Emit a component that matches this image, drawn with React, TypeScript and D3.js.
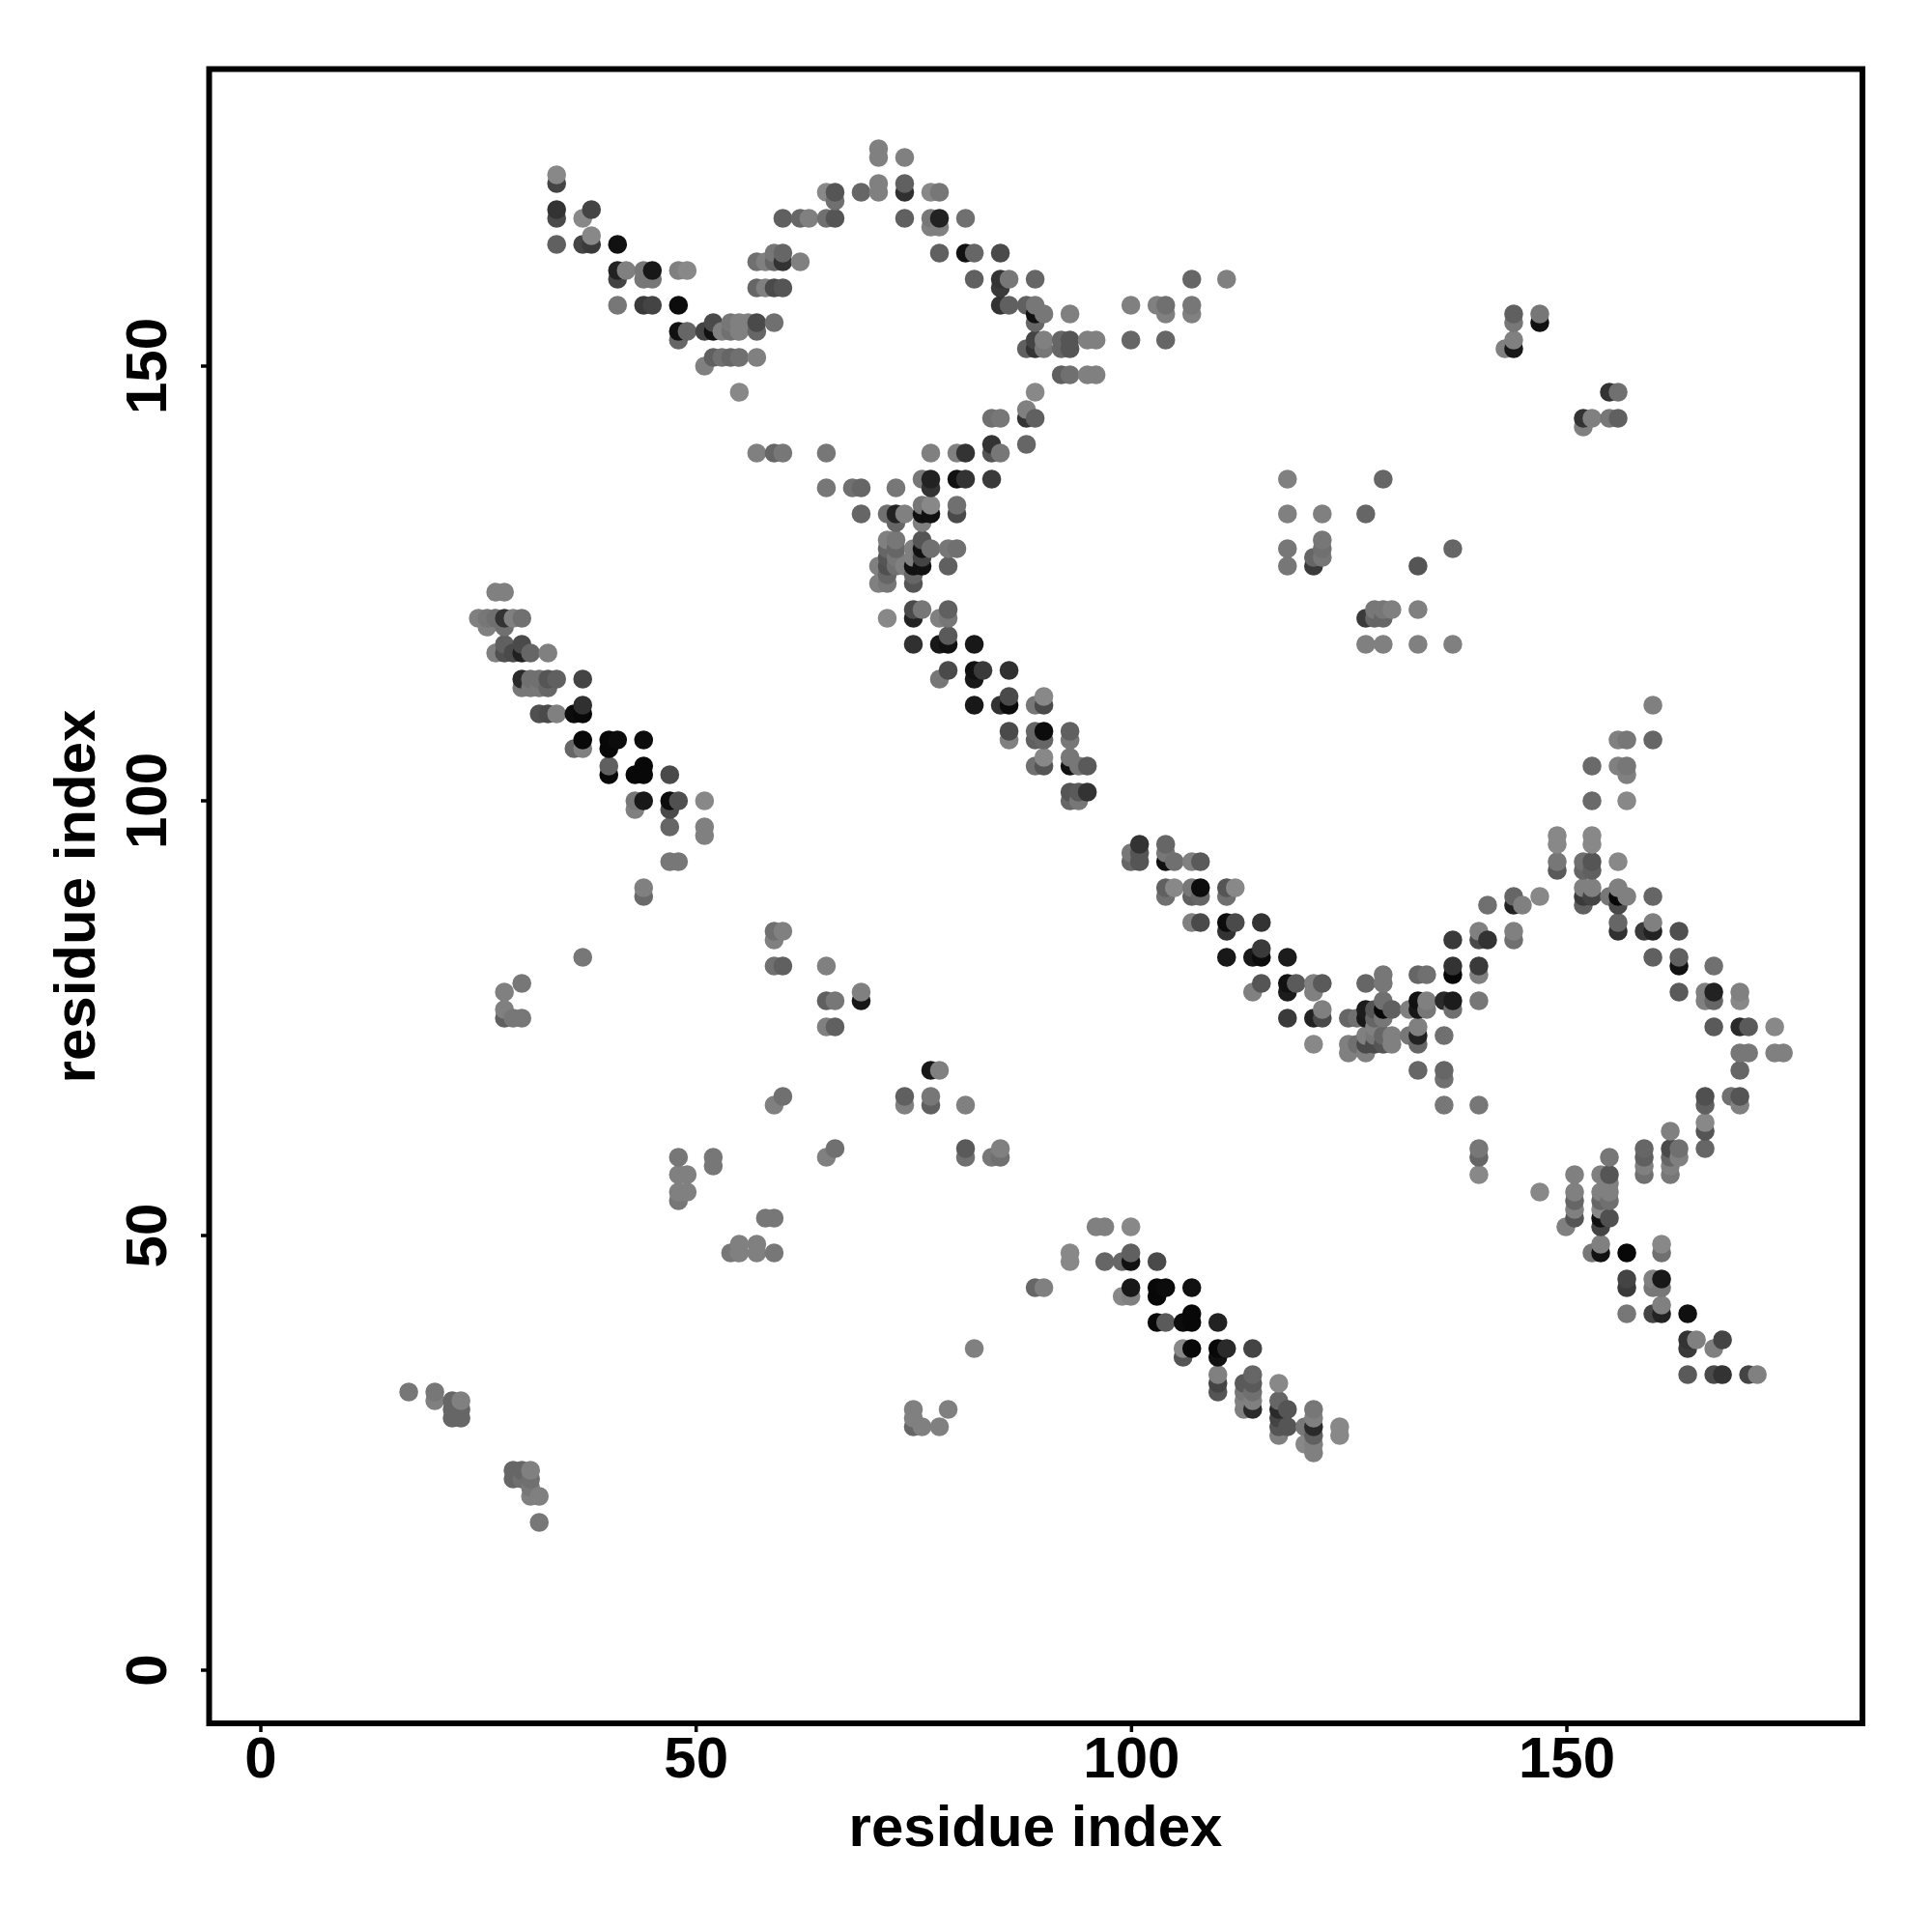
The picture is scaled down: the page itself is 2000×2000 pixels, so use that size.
import React from "react";
import * as d3 from "d3";

type P = [number, number, number];

const xTicks = [0, 50, 100, 150];
const yTicks = [0, 50, 100, 150];
const axisTitle = "residue index";

// [x residue, y residue, gray level]
const armTopLeft: P[] = [
  [34,171,0x44],[34,172,0x88],[34,168,0x33],[34,167,0x4a],[37,167,0x88],[38,168,0x44],
  [34,164,0x60],[37,164,0x44],[38,164,0x3a],[38,165,0x88],[41,164,0x11],
  [41,161,0x22],[41,160,0x44],[42,161,0x80],[44,161,0x77],[44,160,0x77],[45,160,0x77],[45,161,0x18],
  [48,161,0x80],[49,161,0x88],[41,157,0x77],[44,157,0x3a],[45,157,0x44],[48,157,0x0c],
  [48,154,0x11],[48,153,0x66],[49,154,0x66],[51,154,0x44],[52,155,0x4a],[52,154,0x11],[53,154,0x80],
  [54,155,0x77],[54,154,0x70],[55,155,0x80],[55,154,0x80],[56,155,0x80],[57,155,0x4a],[57,154,0x66],[59,155,0x70],
  [52,151,0x60],[53,151,0x70],[54,151,0x66],[55,151,0x70],[57,151,0x80],[51,150,0x80],[55,147,0x88],
  [57,140,0x80],[59,140,0x66],[60,140,0x77],[65,140,0x77],
];
const arcTop: P[] = [
  [57,162,0x70],[58,162,0x80],[59,162,0x66],[60,162,0x33],[62,162,0x80],[59,163,0x77],[60,163,0x66],
  [57,159,0x66],[58,159,0x80],[59,159,0x4a],[60,159,0x55],
  [60,167,0x60],[62,167,0x66],[63,167,0x80],[65,167,0x70],[66,167,0x55],
  [65,170,0x88],[66,170,0x55],[66,169,0x70],[69,170,0x66],[71,170,0x80],[71,171,0x80],[71,175,0x80],[71,174,0x80],
  [74,174,0x80],[74,171,0x60],[74,170,0x30],[77,170,0x88],[78,170,0x77],
  [74,167,0x60],[77,167,0x77],[78,167,0x22],[81,167,0x70],[77,166,0x80],[78,166,0x80],
  [78,163,0x60],[81,163,0x11],[82,163,0x66],[85,163,0x4a],
  [82,160,0x60],[85,160,0x33],[86,160,0x77],[89,160,0x66],[85,159,0x3a],
  [85,157,0x33],[86,157,0x60],[88,157,0x60],[89,157,0x77],[90,156,0x77],[89,156,0x11],[89,155,0x66],[93,156,0x80],
  [100,157,0x80],[103,157,0x80],[104,157,0x70],[104,156,0x80],[107,157,0x77],[107,156,0x80],[107,160,0x66],[111,160,0x80],
  [100,153,0x66],[104,153,0x66],
  [88,152,0x60],[89,153,0x44],[89,152,0x33],[90,153,0x80],[90,152,0x77],[92,153,0x66],[92,152,0x66],[93,153,0x55],[93,152,0x55],
  [95,153,0x80],[96,153,0x80],[92,149,0x60],[93,149,0x70],[95,149,0x80],[96,149,0x80],[89,147,0x88],
  [84,144,0x70],[85,144,0x77],[88,145,0x80],[88,144,0x33],[89,144,0x60],[84,141,0x33],[88,141,0x66],
  [84,140,0x55],[85,140,0x77],[77,140,0x80],[80,140,0x80],[81,140,0x33],
];
const diagonalUpper: P[] = [
  [76,137,0x77],[77,137,0x22],[80,137,0x11],[81,137,0x33],[84,137,0x3a],[77,136,0x33],
  [65,136,0x77],[68,136,0x70],[69,136,0x66],[73,136,0x77],
  [76,134,0x77],[77,134,0x88],[80,134,0x70],[69,133,0x66],[72,133,0x70],[73,133,0x22],[74,133,0x80],
  [76,133,0x11],[77,133,0x11],[80,133,0x4a],[73,132,0x66],[76,132,0x80],
  [72,130,0x80],[73,130,0x77],[76,130,0x55],[72,129,0x66],[73,129,0x66],[75,129,0x80],[76,129,0x11],[77,129,0x70],[79,129,0x77],[80,129,0x70],
  [72,128,0x55],[73,128,0x77],[75,128,0x80],[76,128,0x44],
  [71,127,0x80],[72,127,0x50],[73,127,0x70],[74,127,0x80],[75,127,0x11],[76,127,0x11],[79,127,0x60],
  [72,126,0x66],[75,126,0x66],[71,125,0x80],[72,125,0x77],[75,125,0x55],
  [75,122,0x4a],[76,122,0x77],[79,122,0x60],[72,121,0x88],[75,121,0x22],[78,121,0x80],[79,121,0x77],
  [75,118,0x30],[78,118,0x18],[79,118,0x11],[82,118,0x18],[79,119,0x5a],
  [79,115,0x4a],[82,115,0x11],[83,115,0x3a],[86,115,0x30],[78,114,0x77],[82,114,0x18],
  [82,111,0x18],[85,111,0x33],[86,111,0x0c],[89,111,0x77],[90,111,0x4a],[86,112,0x4a],[90,112,0x88],
  [86,108,0x4a],[89,108,0x66],[90,108,0x0c],[93,108,0x60],[86,107,0x80],[89,107,0x60],[90,107,0x66],[93,107,0x77],
  [90,105,0x88],[93,105,0x77],[89,104,0x70],[90,104,0x55],[93,104,0x11],[94,104,0x77],[95,104,0x5a],
  [93,101,0x55],[94,101,0x5a],[95,101,0x33],[93,100,0x66],[94,100,0x77],
];
const diagonalMiddle: P[] = [
  [101,95,0x33],[104,95,0x66],[100,94,0x77],[101,94,0x55],[104,94,0x77],
  [100,93,0x66],[101,93,0x55],[104,93,0x11],[105,93,0x70],[107,93,0x80],[108,93,0x5a],
  [104,90,0x60],[105,90,0x88],[107,90,0x77],[108,90,0x0c],[111,90,0x55],[112,90,0x88],
  [104,89,0x70],[107,89,0x60],[108,89,0x66],[111,89,0x70],
  [107,86,0x80],[108,86,0x4a],[111,86,0x0c],[112,86,0x4a],[115,86,0x33],[111,85,0x33],
  [115,83,0x3a],[111,82,0x18],[114,82,0x18],[115,82,0x0c],[118,82,0x1c],
  [115,79,0x55],[118,79,0x11],[119,79,0x5a],[121,79,0x80],[122,79,0x5a],[114,78,0x80],[118,78,0x1c],[121,78,0x80],
  [118,75,0x3a],[121,75,0x22],[122,75,0x4a],[122,76,0x80],[121,72,0x88],
];
const knotRight: P[] = [
  [127,79,0x66],[129,80,0x77],[129,79,0x77],[125,75,0x66],[126,75,0x70],[127,75,0x18],[128,75,0x66],[129,75,0x77],
  [127,76,0x1c],[128,76,0x55],[129,76,0x08],[130,76,0x60],[129,77,0x70],[128,74,0x80],
  [127,73,0x80],[128,73,0x77],[129,73,0x66],[130,73,0x80],
  [125,72,0x80],[126,72,0x70],[127,72,0x4a],[128,72,0x4a],[129,72,0x55],[130,72,0x80],[125,71,0x80],[127,71,0x80],
  [133,80,0x66],[134,80,0x70],[136,77,0x2a],[137,77,0x1c],[137,76,0x70],[133,77,0x11],[133,76,0x18],[134,77,0x80],[134,76,0x77],[132,76,0x80],
  [133,74,0x80],[133,73,0x22],[132,73,0x77],[133,72,0x66],[136,73,0x70],
  [133,69,0x66],[136,69,0x66],[136,68,0x70],[136,65,0x77],[140,65,0x77],
  [137,84,0x3a],[137,81,0x33],[137,80,0x08],[140,81,0x3a],[140,80,0x80],[140,85,0x80],[140,84,0x4a],[141,84,0x33],[141,88,0x70],[140,77,0x77],
];
const peakRight: P[] = [
  [144,89,0x66],[144,88,0x22],[145,88,0x80],[147,89,0x88],[144,85,0x80],[144,84,0x70],
  [149,96,0x88],[149,95,0x88],[149,93,0x77],[149,92,0x5a],[153,96,0x88],[153,95,0x88],[153,93,0x55],[152,93,0x70],[152,92,0x66],[153,92,0x60],
  [156,93,0x88],[152,90,0x80],[153,90,0x80],[152,89,0x3a],[153,89,0x44],[152,88,0x60],
  [155,89,0x77],[156,90,0x80],[156,89,0x08],[157,89,0x80],[156,88,0x4a],[160,89,0x66],
  [156,86,0x66],[156,85,0x30],[159,85,0x3a],[160,86,0x80],[160,85,0x22],[163,85,0x50],
  [160,82,0x60],[163,82,0x60],[163,81,0x11],[167,81,0x70],[163,78,0x5a],
  [166,78,0x80],[167,78,0x22],[166,77,0x80],[167,77,0x66],[170,78,0x80],[170,77,0x88],
  [167,74,0x5a],[170,74,0x2a],[171,74,0x5a],[174,74,0x88],[170,71,0x77],[171,71,0x77],[174,71,0x80],[175,71,0x80],[170,69,0x66],
  [166,66,0x50],[166,65,0x60],[169,66,0x70],[170,66,0x55],[170,65,0x80],[166,63,0x88],[166,62,0x55],[162,62,0x80],
  [153,104,0x6a],[153,100,0x6a],[156,104,0x80],[157,104,0x77],[157,103,0x80],[157,100,0x88],
  [156,107,0x80],[157,107,0x77],[160,107,0x66],[160,111,0x80],
];
const armBottomRight: P[] = [
  [140,60,0x77],[140,59,0x66],[140,57,0x88],[147,55,0x88],
  [151,57,0x80],[151,55,0x80],[151,54,0x66],[151,53,0x80],[151,52,0x55],[150,51,0x80],
  [154,57,0x80],[154,55,0x80],[154,54,0x66],[154,53,0x88],[154,52,0x11],[154,51,0x44],
  [155,59,0x77],[155,57,0x55],[155,56,0x80],[155,55,0x80],[155,54,0x70],[155,52,0x50],
  [153,48,0x77],[154,48,0x11],[154,49,0x80],[157,48,0x08],[161,49,0x88],[161,48,0x70],
  [157,45,0x44],[157,44,0x3a],[160,45,0x80],[160,44,0x77],[161,45,0x18],[161,44,0x77],
  [157,41,0x77],[160,41,0x44],[161,41,0x22],[161,42,0x80],[164,41,0x10],
  [164,38,0x33],[164,37,0x3a],[165,38,0x80],[167,37,0x80],[168,38,0x44],
  [164,34,0x5a],[167,34,0x4a],[168,34,0x33],[171,34,0x44],[172,34,0x80],
  [159,60,0x66],[159,59,0x60],[159,58,0x80],[159,57,0x70],
  [162,60,0x4a],[162,59,0x66],[162,58,0x80],[162,57,0x77],[163,60,0x70],[163,59,0x80],[166,60,0x66],
];
const diagonalLower: P[] = [
  [96,51,0x80],[97,51,0x80],[100,51,0x88],[93,48,0x88],[93,47,0x88],[97,47,0x66],[99,47,0x66],[100,47,0x11],[100,48,0x60],[103,47,0x4a],
  [100,44,0x18],[99,43,0x88],[100,43,0x80],[103,44,0x08],[103,43,0x08],[104,44,0x0c],[107,44,0x11],
  [103,40,0x08],[104,40,0x5a],[106,40,0x0c],[107,40,0x08],[107,41,0x08],[110,40,0x22],
  [106,37,0x88],[106,36,0x55],[107,37,0x08],[110,37,0x08],[110,36,0x11],[111,37,0x2a],[114,37,0x44],
  [110,34,0x80],[110,33,0x44],[110,32,0x55],[113,33,0x5a],[113,32,0x77],[113,31,0x80],[113,30,0x80],
  [114,34,0x66],[114,33,0x5a],[114,32,0x70],[114,31,0x80],[114,30,0x2a],[117,33,0x88],
  [117,31,0x66],[117,30,0x2a],[117,29,0x44],[117,28,0x55],[118,30,0x55],[118,28,0x55],[117,27,0x80],
  [120,28,0x77],[120,26,0x88],[121,30,0x77],[121,29,0x80],[121,28,0x2a],[121,27,0x60],[121,26,0x80],[121,25,0x80],[124,28,0x88],[124,27,0x88],
];
const diagonalLeft: P[] = [
  [27,124,0x80],[28,124,0x80],[25,121,0x80],[26,121,0x77],[27,121,0x70],[28,121,0x33],[29,121,0x80],[30,121,0x70],[26,120,0x80],[28,120,0x70],
  [28,118,0x60],[30,118,0x4a],[27,117,0x80],[28,117,0x50],[29,117,0x4a],[30,117,0x20],[31,117,0x66],[33,117,0x80],
  [30,114,0x2a],[31,114,0x70],[32,114,0x70],[33,114,0x55],[34,114,0x60],[37,114,0x44],[30,113,0x77],[31,113,0x77],[32,113,0x77],[33,113,0x66],
  [32,110,0x50],[33,110,0x4a],[34,110,0x80],[36,110,0x0c],[37,110,0x08],[37,111,0x30],
  [37,107,0x08],[40,107,0x08],[41,107,0x0c],[44,107,0x0c],[36,106,0x66],[37,106,0x80],[40,106,0x08],
  [40,104,0x60],[40,103,0x08],[43,103,0x08],[44,103,0x08],[44,104,0x08],[47,103,0x4a],
  [43,100,0x77],[44,100,0x18],[47,100,0x0c],[48,100,0x50],[51,100,0x88],[43,99,0x80],[47,99,0x4a],
  [47,97,0x66],[51,97,0x80],[51,96,0x80],[47,93,0x77],[48,93,0x77],[44,90,0x80],[44,89,0x6a],
];
const scatteredLow: P[] = [
  [37,82,0x77],[30,79,0x77],[28,78,0x80],[28,76,0x80],[28,75,0x60],[29,75,0x77],[30,75,0x77],
  [59,85,0x70],[60,85,0x80],[59,84,0x80],[59,81,0x70],[60,81,0x60],[65,81,0x80],
  [65,77,0x60],[66,77,0x77],[65,74,0x80],[66,74,0x60],[69,78,0x80],[69,77,0x18],[77,69,0x18],[78,69,0x80],
  [59,65,0x80],[60,66,0x70],[74,66,0x60],[74,65,0x80],[77,66,0x77],[77,65,0x60],[81,65,0x80],
  [65,59,0x80],[66,60,0x70],[81,60,0x5a],[81,59,0x70],[84,59,0x77],[85,60,0x80],[85,59,0x70],
  [48,59,0x77],[48,57,0x80],[49,57,0x80],[48,55,0x80],[49,55,0x80],[48,54,0x77],[52,59,0x77],[52,58,0x77],
  [58,52,0x77],[59,52,0x77],[54,48,0x77],[55,49,0x80],[55,48,0x80],[57,49,0x80],[57,48,0x80],[59,48,0x77],
  [89,44,0x66],[90,44,0x80],[82,37,0x80],
  [75,30,0x80],[75,29,0x80],[75,28,0x66],[76,28,0x80],[78,28,0x80],[79,30,0x80],
  [17,32,0x77],[20,32,0x77],[20,31,0x80],[22,31,0x66],[23,31,0x80],[22,30,0x66],[23,30,0x66],[22,29,0x66],[23,29,0x66],
  [29,23,0x66],[29,22,0x66],[30,23,0x66],[30,22,0x70],[31,23,0x80],[31,22,0x70],[31,21,0x77],[31,20,0x80],[32,20,0x80],[32,17,0x77],
];
const scatteredHigh: P[] = [
  [118,137,0x80],[118,133,0x80],[122,133,0x80],[127,133,0x66],[129,137,0x66],
  [118,129,0x77],[118,127,0x77],[121,127,0x3a],[121,128,0x66],[122,130,0x77],[122,129,0x70],[122,128,0x77],
  [133,127,0x55],[137,129,0x66],[127,121,0x3a],[128,122,0x77],[128,121,0x66],[129,122,0x77],[129,121,0x66],[130,122,0x80],
  [127,118,0x80],[129,118,0x80],[133,122,0x80],[133,118,0x80],[137,118,0x80],
  [144,156,0x60],[144,155,0x77],[147,156,0x77],[147,155,0x11],[144,153,0x80],[144,152,0x18],[143,152,0x80],
  [152,144,0x33],[152,143,0x80],[153,144,0x80],[155,147,0x33],[156,147,0x70],[155,144,0x77],[156,144,0x60],
];

const points: P[] = [
  ...armTopLeft, ...arcTop, ...diagonalUpper, ...diagonalMiddle, ...knotRight, ...peakRight,
  ...armBottomRight, ...diagonalLower, ...diagonalLeft, ...scatteredLow, ...scatteredHigh,
].slice().sort((a, b) => d3.ascending(a[0], b[0]) || d3.ascending(a[1], b[1]));

const FONT = "'Liberation Sans', Arial, sans-serif";

export default function App() {
  const x = d3.scaleLinear().domain([0, 150]).range([270, 1621]);
  const y = d3.scaleLinear().domain([0, 150]).range([1729, 379]);
  const tickX = d3.scaleLinear().domain([0, 150]).range([270, 1622]);
  const frame = { left: 216.5, right: 1928, top: 71.5, bottom: 1784 };
  const fs = 60;
  return (
    <svg width={2000} height={2000} style={{ position: "absolute", left: 0, top: 0, display: "block", background: "#fff" }}>
      {points.map(([a, b, g], i) => (
        <circle key={i} cx={x(a)} cy={y(b)} r={9.8} fill={d3.rgb(g, g, g).formatHex()} />
      ))}
      <rect x={frame.left} y={frame.top} width={frame.right - frame.left} height={frame.bottom - frame.top} fill="none" stroke="#000" strokeWidth={6} />
      {xTicks.map((t) => (
        <g key={t}>
          <line x1={tickX(t)} x2={tickX(t)} y1={frame.bottom} y2={1793} stroke="#000" strokeWidth={3.5} />
          <text x={tickX(t)} y={1840} textAnchor="middle" fontFamily={FONT} fontWeight="bold" fontSize={fs}>{t}</text>
        </g>
      ))}
      {yTicks.map((t) => (
        <g key={t}>
          <line x1={frame.left} x2={208} y1={y(t)} y2={y(t)} stroke="#000" strokeWidth={3.5} />
          <text transform={`translate(172,${y(t)}) rotate(-90)`} textAnchor="middle" fontFamily={FONT} fontWeight="bold" fontSize={fs}>{t}</text>
        </g>
      ))}
      <text x={1072} y={1911} textAnchor="middle" fontFamily={FONT} fontWeight="bold" fontSize={fs}>{axisTitle}</text>
      <text transform="translate(98,928) rotate(-90)" textAnchor="middle" fontFamily={FONT} fontWeight="bold" fontSize={fs}>{axisTitle}</text>
    </svg>
  );
}
